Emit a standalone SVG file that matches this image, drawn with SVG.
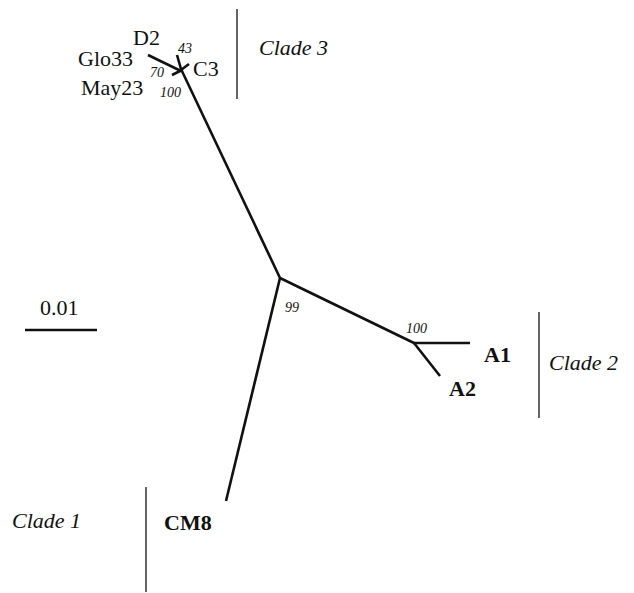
<svg xmlns="http://www.w3.org/2000/svg" width="634" height="593" viewBox="0 0 634 593">
<style>
.br{stroke:#111;stroke-width:2.6;fill:none;stroke-linecap:butt}
.bar{stroke:#111;stroke-width:1.3}
</style>
<rect width="634" height="593" fill="#fff"/>
<g id="connectors">
<line class="br" x1="181" y1="69" x2="280" y2="278"/>
<line class="br" x1="177" y1="55" x2="181" y2="69"/>
<line class="br" x1="148" y1="55" x2="181" y2="71"/>
<line class="br" x1="172" y1="75" x2="182" y2="70"/>
<line class="br" x1="181" y1="70" x2="189" y2="64"/>
<line class="br" x1="280" y1="278" x2="414" y2="343"/>
<line class="br" x1="413" y1="343" x2="470" y2="343"/>
<line class="br" x1="414" y1="343" x2="440" y2="376"/>
<line class="br" x1="280" y1="278" x2="226" y2="501"/>
</g>
<g id="node-D2"><text font-family="Liberation Serif" font-size="22" fill="#111" x="133" y="45">D2</text></g>
<g id="node-Glo33"><text font-family="Liberation Serif" font-size="22" fill="#111" x="78" y="66">Glo33</text></g>
<g id="node-May23"><text font-family="Liberation Serif" font-size="22" fill="#111" x="81" y="95">May23</text></g>
<g id="node-C3"><text font-family="Liberation Serif" font-size="22" fill="#111" x="193" y="76">C3</text></g>
<g id="node-A1"><text font-family="Liberation Serif" font-size="22" font-weight="bold" fill="#111" x="484" y="362">A1</text></g>
<g id="node-A2"><text font-family="Liberation Serif" font-size="22" font-weight="bold" fill="#111" x="449" y="396">A2</text></g>
<g id="node-CM8"><text font-family="Liberation Serif" font-size="22" font-weight="bold" fill="#111" x="164" y="530">CM8</text></g>
<g id="bootstrap">
<text font-family="Liberation Serif" font-size="14" font-style="italic" fill="#111" x="178" y="53">43</text>
<text font-family="Liberation Serif" font-size="14" font-style="italic" fill="#111" x="150" y="77">70</text>
<text font-family="Liberation Serif" font-size="14" font-style="italic" fill="#111" x="160" y="97">100</text>
<text font-family="Liberation Serif" font-size="14" font-style="italic" fill="#111" x="285" y="312">99</text>
<text font-family="Liberation Serif" font-size="14" font-style="italic" fill="#111" x="406" y="333">100</text>
</g>
<g id="clades">
<line class="bar" x1="237" y1="9" x2="237" y2="99"/>
<text font-family="Liberation Serif" font-size="22" font-style="italic" fill="#111" x="259" y="55">Clade 3</text>
<line class="bar" x1="539" y1="312" x2="539" y2="418"/>
<text font-family="Liberation Serif" font-size="22" font-style="italic" fill="#111" x="549" y="370">Clade 2</text>
<line class="bar" x1="146" y1="487" x2="146" y2="592"/>
<text font-family="Liberation Serif" font-size="22" font-style="italic" fill="#111" x="12" y="528">Clade 1</text>
</g>
<g id="scale">
<text font-family="Liberation Serif" font-size="22" fill="#111" x="40" y="315">0.01</text>
<line x1="25" y1="330" x2="97" y2="330" stroke="#111" stroke-width="2.6"/>
</g>
</svg>
